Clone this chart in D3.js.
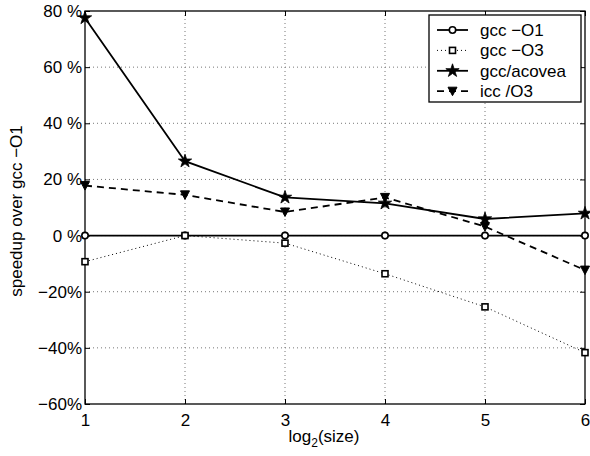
<!DOCTYPE html>
<html><head><meta charset="utf-8">
<script src="https://cdn.jsdelivr.net/npm/d3@7"></script>
<style>body{margin:0;background:#fff}svg{display:block}text{font-family:"Liberation Sans",Arial,Helvetica,sans-serif;}</style>
</head><body>
<script>
const xs = [1, 2, 3, 4, 5, 6];
const gccO1 = [0, 0, 0, 0, 0, 0];
const gccO3 = [-9.3, 0, -2.7, -13.6, -25.4, -41.7];
const acovea = [77.5, 26.5, 13.6, 11.5, 5.9, 7.9];
const iccO3 = [17.8, 14.5, 8.4, 13.6, 3.2, -12.3];
const yTicks = [-60, -40, -20, 0, 20, 40, 60, 80];
const yTickLabels = ["\u221260%", "\u221240%", "\u221220%", "0 %", "20 %", "40 %", "60 %", "80 %"];
const seriesNames = ["gcc \u2212O1", "gcc \u2212O3", "gcc/acovea", "icc /O3"];

const W = 590, H = 456;
const L = 85, R = 585, T = 11, B = 404;
const FS = 17;
const svg = d3.select("body").append("svg").attr("width", W).attr("height", H);
const x = d3.scaleLinear().domain([1, 6]).range([L, R]);
const y = d3.scaleLinear().domain([-60, 80]).range([B, T]);

// grid
const g = svg.append("g");
g.selectAll(".gx").data(xs.slice(1, -1)).enter().append("line")
  .attr("x1", d => x(d)).attr("x2", d => x(d)).attr("y1", T).attr("y2", B)
  .attr("stroke", "#777").attr("stroke-width", 1).attr("stroke-dasharray", "1,3");
g.selectAll(".gy").data(yTicks.slice(1, -1)).enter().append("line")
  .attr("y1", d => y(d)).attr("y2", d => y(d)).attr("x1", L).attr("x2", R)
  .attr("stroke", "#777").attr("stroke-width", 1).attr("stroke-dasharray", "1,3");

// axes with inward ticks
const axB = d3.axisBottom(x).tickValues(xs).tickSize(-5).tickPadding(10).tickFormat(d3.format("d"));
const axT = d3.axisTop(x).tickValues(xs).tickSize(-5).tickFormat("");
const axL = d3.axisLeft(y).tickValues(yTicks).tickSize(-5).tickPadding(3).tickFormat((d, i) => yTickLabels[i]);
const axR = d3.axisRight(y).tickValues(yTicks).tickSize(-5).tickFormat("");
function style(sel) {
  sel.selectAll(".domain").remove();
  sel.selectAll("line").attr("stroke", "#000").attr("stroke-width", 1);
  sel.selectAll("text").attr("font-size", FS).attr("fill", "#000").style("font-family", "'Liberation Sans',Arial,sans-serif");
}
svg.append("g").attr("transform", `translate(0,${B})`).call(axB).call(style);
svg.append("g").attr("transform", `translate(0,${T})`).call(axT).call(style);
svg.append("g").attr("transform", `translate(${L},0)`).call(axL).call(style);
svg.append("g").attr("transform", `translate(${R},0)`).call(axR).call(style);
svg.append("rect").attr("x", L).attr("y", T).attr("width", R - L).attr("height", B - T)
  .attr("fill", "none").attr("stroke", "#000").attr("stroke-width", 1.3);

// series
const series = [
  {name: seriesNames[0], vals: gccO1, dash: null, w: 1.8, marker: "circle"},
  {name: seriesNames[1], vals: gccO3, dash: "1,3", w: 1, marker: "square"},
  {name: seriesNames[2], vals: acovea, dash: null, w: 1.8, marker: "star"},
  {name: seriesNames[3], vals: iccO3, dash: "7,5", w: 1.8, marker: "tri"}
];
const line = d3.line().x(d => x(d[0])).y(d => y(d[1]));
const starSym = d3.symbol().type(d3.symbolStar).size(55);
const triPath = "M-4.5,-4L4.5,-4L0,4.5Z";
function drawMarker(sel, m) {
  if (m === "circle") sel.append("circle").attr("r", 3.2).attr("fill", "#fff").attr("stroke", "#000").attr("stroke-width", 1.6);
  else if (m === "square") sel.append("rect").attr("x", -3).attr("y", -3).attr("width", 6).attr("height", 6).attr("fill", "#fff").attr("stroke", "#000").attr("stroke-width", 1.6);
  else if (m === "star") sel.append("path").attr("d", starSym()).attr("fill", "#000").attr("stroke", "#000").attr("stroke-width", 0.8);
  else sel.append("path").attr("d", triPath).attr("fill", "#000").attr("stroke", "#000").attr("stroke-width", 1);
}
series.forEach(s => {
  const pts = xs.map((xv, i) => [xv, s.vals[i]]);
  svg.append("path").datum(pts).attr("d", line).attr("fill", "none").attr("stroke", "#000")
    .attr("stroke-width", s.w).attr("stroke-dasharray", s.dash);
  pts.forEach(p => {
    const mg = svg.append("g").attr("transform", `translate(${x(p[0])},${y(p[1])})`);
    drawMarker(mg, s.marker);
  });
});

// legend
const lg = svg.append("g");
lg.append("rect").attr("x", 429).attr("y", 15).attr("width", 152).attr("height", 87)
  .attr("fill", "#fff").attr("stroke", "#000").attr("stroke-width", 1.3);
series.forEach((s, i) => {
  const yy = 30 + i * 20.4;
  lg.append("line").attr("x1", 437).attr("x2", 468).attr("y1", yy).attr("y2", yy)
    .attr("stroke", "#000").attr("stroke-width", s.w).attr("stroke-dasharray", s.dash);
  const mg = lg.append("g").attr("transform", `translate(452.5,${yy})`);
  drawMarker(mg, s.marker);
  lg.append("text").attr("x", 480).attr("y", yy + 6).attr("font-size", FS).text(s.name);
});

// axis labels
const xl = svg.append("text").attr("x", 324).attr("y", 442).attr("text-anchor", "middle").attr("font-size", FS);
xl.append("tspan").text("log");
xl.append("tspan").attr("font-size", 12).attr("dy", 5).text("2");
xl.append("tspan").attr("dy", -5).text("(size)");
svg.append("text").attr("transform", "translate(22,211) rotate(-90)").attr("text-anchor", "middle")
  .attr("font-size", FS).text("speedup over gcc \u2212O1");
</script>
</body></html>
